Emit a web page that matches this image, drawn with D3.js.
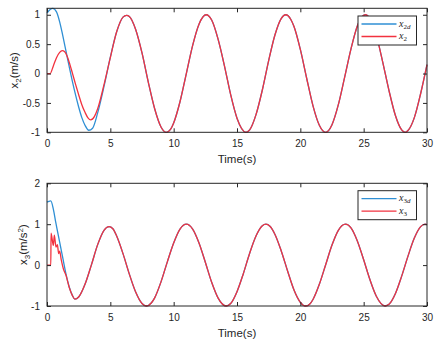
<!DOCTYPE html>
<html>
<head>
<meta charset="utf-8">
<script src="https://cdn.jsdelivr.net/npm/d3@7"></script>
<style>
  body { margin: 0; background: #fff; }
  text { font-family: "Liberation Sans", Arial, sans-serif; fill: #262626; }
  .legend-text { font-family: "Liberation Serif", "DejaVu Serif", serif; }
</style>
</head>
<body>
<div id="chart"></div>
<script>

// Tick values
var timeTicks = [0, 5, 10, 15, 20, 25, 30];
var x2Ticks = [-1, -0.5, 0, 0.5, 1];
var x3Ticks = [-1, 0, 1, 2];

// x2 panel: start of each series, then the part where both coincide  [t, value]
var x2dStart = [[0,1.03],[0.25,1.09],[0.45,1.11],[0.75,1.05],[1,0.88],[1.25,0.64],[1.5,0.38],[1.75,0.12],[2,-0.13],[2.25,-0.36],[2.5,-0.57],[2.75,-0.75],[3,-0.88],[3.3,-0.965],[3.6,-0.93],[4,-0.67],[4.5,-0.22],[5,0.28]];
var x2Start = [[0,0],[0.25,0],[0.5,0.13],[0.75,0.27],[1,0.36],[1.2,0.39],[1.4,0.37],[1.6,0.29],[1.8,0.16],[2,0.01],[2.25,-0.18],[2.5,-0.36],[2.75,-0.53],[3,-0.66],[3.25,-0.76],[3.45,-0.79],[3.75,-0.73],[4,-0.6],[4.5,-0.19],[5,0.27]];
var x2Steady = [[5.5,0.71],[6,0.96],[6.28,0.99],[6.5,0.97],[7,0.75],[7.5,0.35],[8,-0.15],[8.5,-0.6],[9,-0.91],[9.42,-1],[9.75,-0.95],[10,-0.84],[10.5,-0.48],[11,0],[11.5,0.48],[12,0.84],[12.57,1],[13,0.91],[13.5,0.59],[14,0.14],[14.5,-0.36],[15,-0.76],[15.71,-1],[16,-0.96],[16.5,-0.7],[17,-0.28],[17.5,0.22],[18,0.66],[18.5,0.94],[18.85,1],[19.25,0.92],[19.5,0.8],[20,0.41],[20.5,-0.08],[21,-0.55],[21.5,-0.88],[21.99,-1],[22.5,-0.87],[23,-0.53],[23.5,-0.06],[24,0.42],[24.5,0.81],[25.13,1],[25.5,0.93],[26,0.65],[26.5,0.2],[27,-0.29],[27.5,-0.71],[28,-0.96],[28.27,-1],[28.5,-0.97],[29,-0.75],[29.5,-0.34],[30,0.15]];

// x3 panel
var x3dStart = [[0,1.54],[0.15,1.56],[0.3,1.57],[0.5,1.37],[0.7,1.03],[1,0.56],[1.25,0.17],[1.5,-0.22],[1.75,-0.53],[2,-0.74],[2.2,-0.83]];
var x3Start = [[0,0],[0.3,0],[0.32,0.78],[0.5,0.48],[0.58,0.73],[0.71,0.44],[0.82,0.5],[0.92,0.28],[1,0.34],[1.13,0.12],[1.29,-0.09],[1.5,-0.25],[1.75,-0.54],[2,-0.74],[2.2,-0.83]];
var x3Steady = [[2.5,-0.78],[3,-0.47],[3.5,0],[4,0.5],[4.5,0.85],[4.9,0.94],[5.2,0.89],[5.5,0.71],[6,0.28],[6.5,-0.22],[7,-0.66],[7.5,-0.94],[7.85,-1],[8.25,-0.92],[8.5,-0.8],[9,-0.41],[9.5,0.08],[10,0.54],[10.5,0.88],[11,1],[11.5,0.88],[12,0.54],[12.5,0.07],[13,-0.42],[13.5,-0.8],[14.14,-1],[14.5,-0.94],[15,-0.65],[15.5,-0.21],[16,0.29],[16.5,0.71],[17,0.96],[17.28,1],[17.6,0.95],[18,0.75],[18.5,0.34],[19,-0.15],[19.5,-0.61],[20,-0.91],[20.42,-1],[20.75,-0.95],[21,-0.84],[21.5,-0.47],[22,0.01],[22.5,0.49],[23,0.85],[23.56,1],[24,0.91],[24.5,0.59],[25,0.13],[25.5,-0.36],[26,-0.76],[26.7,-1],[27,-0.96],[27.5,-0.7],[28,-0.27],[28.5,0.22],[29,0.66],[29.5,0.94],[29.85,1],[30,0.99]];

var blue = "#2f8fd4";
var red = "#f2323f";

var svg = d3.select("#chart").append("svg")
	.attr("width", 442)
	.attr("height", 343);

function drawPanel(opts) {
	var width = 380, height = opts.height;

	var g = svg.append("g")
		.attr("transform", "translate(47," + opts.top + ")");

	var x = d3.scaleLinear().domain([0, 30]).range([0, width]);
	var y = d3.scaleLinear().domain(opts.yDomain).range([height, 0]);

	// curves
	var line = d3.line()
		.x(function (d) { return x(d[0]); })
		.y(function (d) { return y(d[1]); })
		.curve(d3.curveMonotoneX);

	g.append("path")
		.datum(opts.desired)
		.attr("fill", "none")
		.attr("stroke", blue)
		.attr("stroke-width", 1.3)
		.attr("d", line);

	g.append("path")
		.datum(opts.actual)
		.attr("fill", "none")
		.attr("stroke", red)
		.attr("stroke-width", 1.3)
		.attr("d", line);

	// axes, ticks pointing inwards on all four sides
	var fmt = function (d) { return String(d); };

	var xb = g.append("g").attr("transform", "translate(0," + height + ")")
		.call(d3.axisBottom(x).tickValues(timeTicks).tickFormat(fmt).tickSizeInner(-4).tickSizeOuter(0).tickPadding(8));
	var xt = g.append("g")
		.call(d3.axisTop(x).tickValues(timeTicks).tickFormat("").tickSizeInner(-4).tickSizeOuter(0));
	var yl = g.append("g")
		.call(d3.axisLeft(y).tickValues(opts.yTicks).tickFormat(fmt).tickSizeInner(-4).tickSizeOuter(0).tickPadding(7));
	var yr = g.append("g").attr("transform", "translate(" + width + ",0)")
		.call(d3.axisRight(y).tickValues(opts.yTicks).tickFormat("").tickSizeInner(-4).tickSizeOuter(0));

	[xb, xt, yl, yr].forEach(function (a) {
		a.select(".domain").remove();
		a.selectAll("line").attr("stroke", "#262626");
		a.selectAll("text")
			.attr("fill", "#262626")
			.style("font-family", "'Liberation Sans', Arial, sans-serif")
			.style("font-size", "10px");
	});

	g.append("rect")
		.attr("width", width)
		.attr("height", height)
		.attr("fill", "none")
		.attr("stroke", "#262626")
		.attr("stroke-width", 1);

	// x label
	g.append("text")
		.attr("x", width / 2)
		.attr("y", height + 31)
		.attr("text-anchor", "middle")
		.style("font-size", "11.5px")
		.text("Time(s)");

	// y label
	var yt = g.append("text")
		.attr("transform", "translate(" + (opts.labelX - 47) + "," + (height / 2) + ") rotate(-90)")
		.attr("text-anchor", "middle")
		.style("font-size", "11.5px");
	opts.yLabel(yt);

	// legend
	var lg = g.append("g").attr("transform", "translate(311," + opts.legendTop + ")");
	lg.append("rect")
		.attr("width", 58.5)
		.attr("height", 29)
		.attr("fill", "#fff")
		.attr("stroke", "#262626")
		.attr("stroke-width", 1);
	[[blue, 8, opts.legendSub[0]], [red, 20.5, opts.legendSub[1]]].forEach(function (e) {
		lg.append("line")
			.attr("x1", 3.5).attr("x2", 38.5)
			.attr("y1", e[1]).attr("y2", e[1])
			.attr("stroke", e[0])
			.attr("stroke-width", 1.3);
		var t = lg.append("text")
			.attr("class", "legend-text")
			.attr("x", 41)
			.attr("y", e[1] + 2.5)
			.style("font-size", "10px");
		t.append("tspan").style("font-style", "italic").text("x");
		t.append("tspan").attr("dy", 2).style("font-size", "7px").text(e[2].num);
		if (e[2].letter) t.append("tspan").style("font-size", "7px").style("font-style", "italic").text(e[2].letter);
	});
}

drawPanel({
	top: 8.3,
	height: 124,
	yDomain: [-1, 1.11],
	yTicks: x2Ticks,
	desired: x2dStart.concat(x2Steady),
	actual: x2Start.concat(x2Steady),
	labelX: 18,
	legendTop: 7.7,
	legendSub: [{ num: "2", letter: "d" }, { num: "2" }],
	yLabel: function (t) {
		t.append("tspan").text("x");
		t.append("tspan").attr("dy", 3).style("font-size", "8px").text("2");
		t.append("tspan").attr("dy", -3).text("(m/s)");
	}
});

drawPanel({
	top: 183.3,
	height: 122.7,
	yDomain: [-1, 2],
	yTicks: x3Ticks,
	desired: x3dStart.concat(x3Steady),
	actual: x3Start.concat(x3Steady),
	labelX: 27,
	legendTop: 7.4,
	legendSub: [{ num: "3", letter: "d" }, { num: "3" }],
	yLabel: function (t) {
		t.append("tspan").text("x");
		t.append("tspan").attr("dy", 3).style("font-size", "8px").text("3");
		t.append("tspan").attr("dy", -3).text("(m/s");
		t.append("tspan").attr("dy", -4).style("font-size", "8px").text("2");
		t.append("tspan").attr("dy", 4).text(")");
	}
});

</script>
</body>
</html>
